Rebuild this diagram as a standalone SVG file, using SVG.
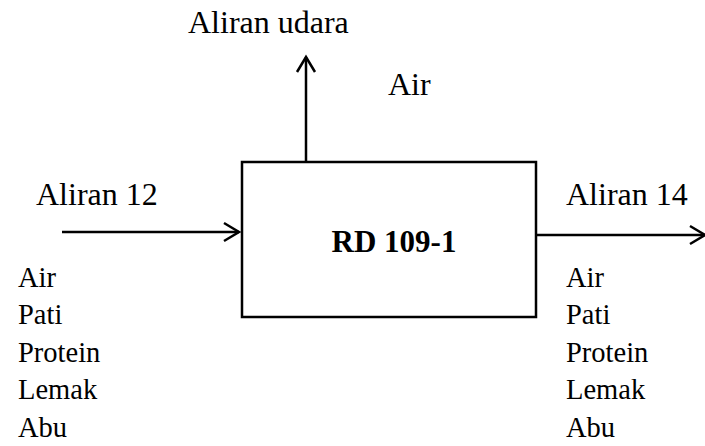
<svg xmlns="http://www.w3.org/2000/svg" width="705" height="446" viewBox="0 0 705 446">
<style>
text{font-family:"Liberation Serif","Times New Roman",serif;fill:#000;font-size:28.5px}
.h{font-size:32px}
.b{font-weight:bold;font-size:31px}
.ln{stroke:#000;stroke-width:2.5;fill:none}
.ah{stroke:#000;stroke-width:2.5;fill:none}
</style>
<rect width="705" height="446" fill="#fff"/>
<g id="connectors">
<path class="ln" d="M306 162V57"/>
<path class="ah" d="M297 72L306 57L315 72"/>
<path class="ln" d="M62 232H239"/>
<path class="ah" d="M224 223L239 232L224 241"/>
<path class="ln" d="M536 235H705"/>
<path class="ah" d="M690 226L705 235L690 244"/>
</g>
<g id="node-rd">
<rect x="242" y="162" width="294" height="155" fill="#fff" stroke="#000" stroke-width="2.5"/>
<text class="b" x="394" y="252" text-anchor="middle">RD 109-1</text>
</g>
<g id="label-udara">
<text class="h" x="188" y="33">Aliran udara</text>
<text class="h" x="388" y="95">Air</text>
</g>
<g id="label-12">
<text class="h" x="36" y="205">Aliran 12</text>
<text x="18" y="287">Air</text>
<text x="18" y="324">Pati</text>
<text x="18" y="362">Protein</text>
<text x="18" y="399">Lemak</text>
<text x="18" y="437">Abu</text>
</g>
<g id="label-14">
<text class="h" x="566" y="205">Aliran 14</text>
<text x="566" y="287">Air</text>
<text x="566" y="324">Pati</text>
<text x="566" y="362">Protein</text>
<text x="566" y="399">Lemak</text>
<text x="566" y="437">Abu</text>
</g>
</svg>
